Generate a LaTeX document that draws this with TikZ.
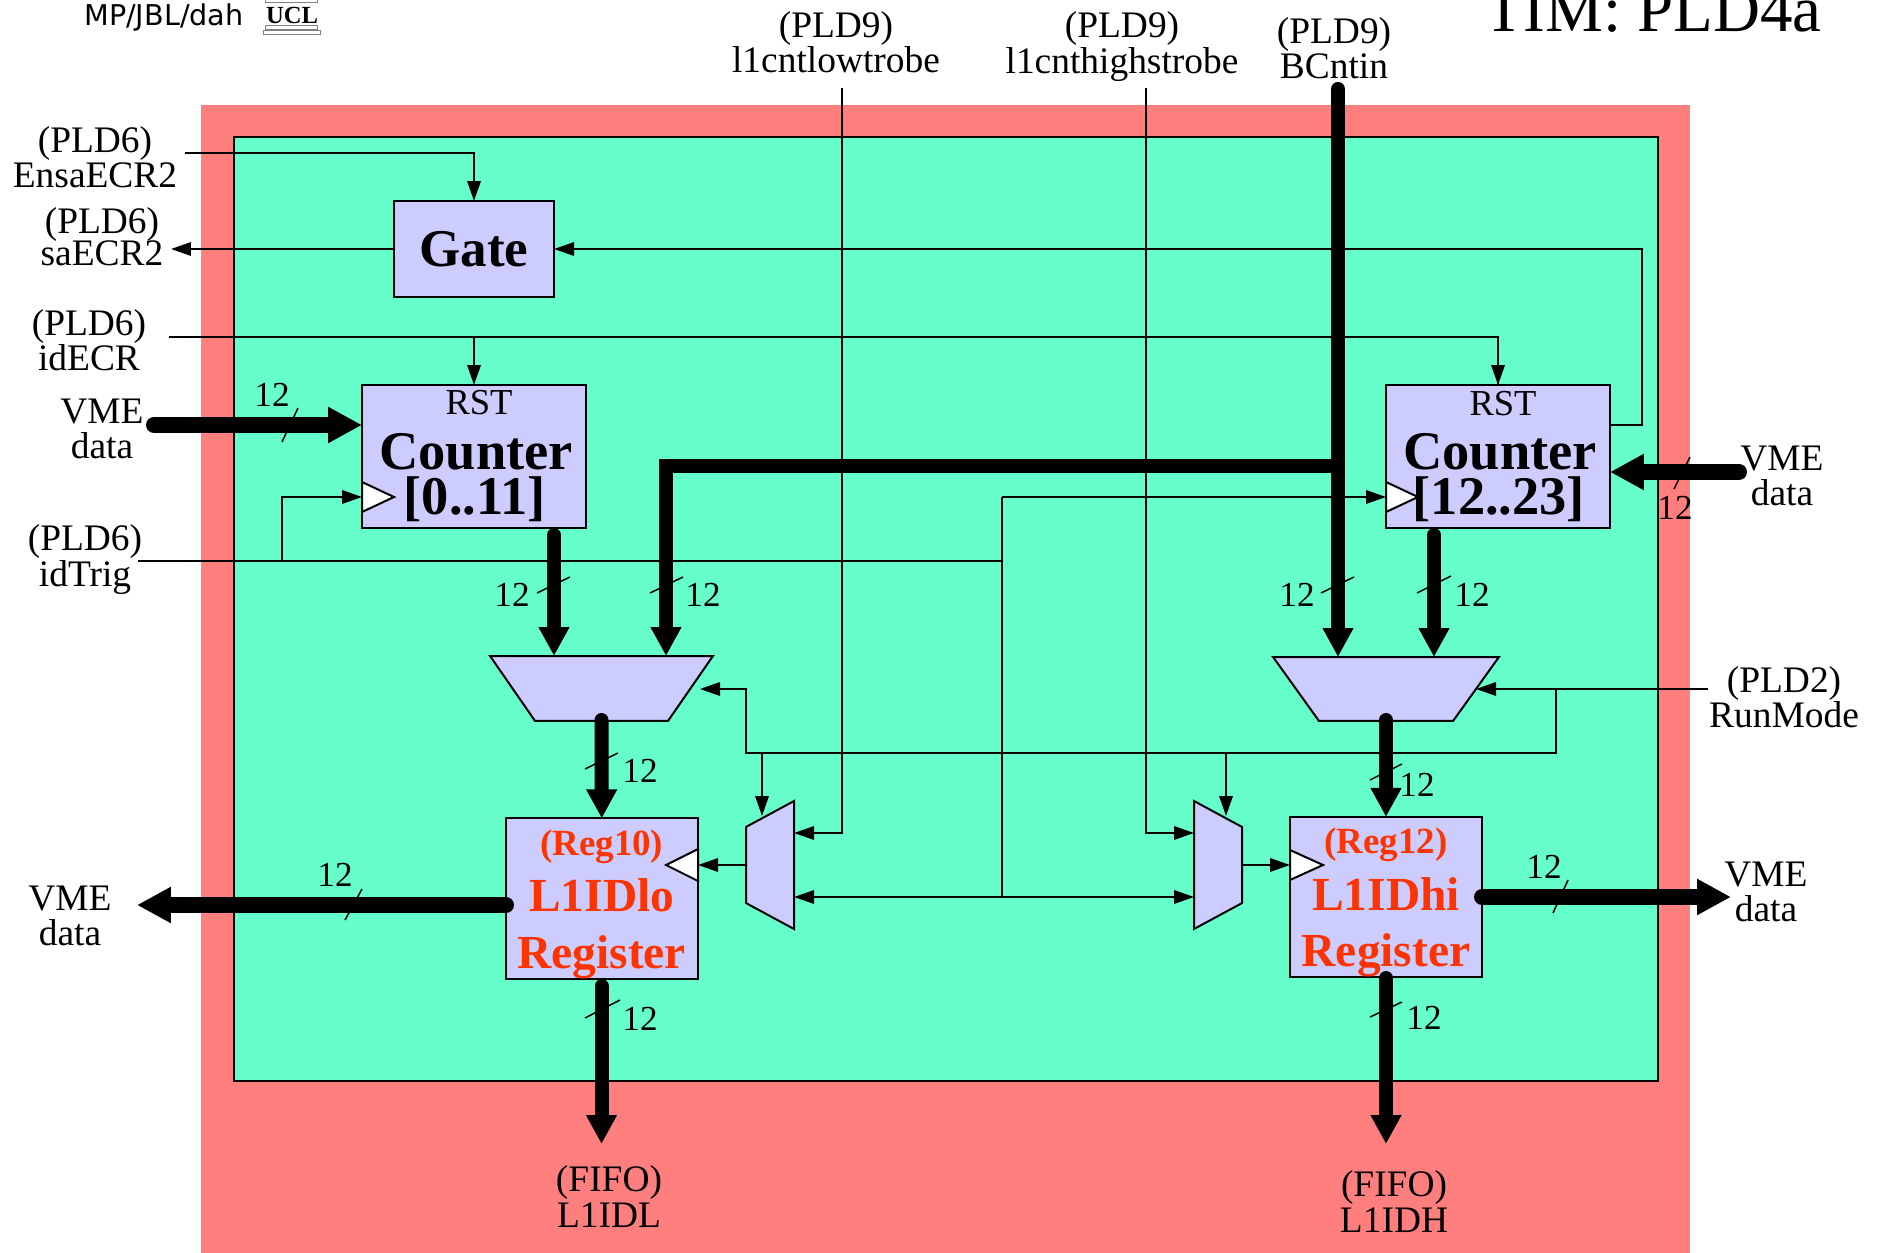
\documentclass[tikz,border=0pt]{standalone}
\usepackage{fontspec}
\setmainfont{Liberation Serif}
\newfontfamily\logosans{DejaVu Sans}
\usetikzlibrary{arrows.meta,shapes.geometric}
\definecolor{outerred}{RGB}{255,127,127}
\definecolor{innergreen}{RGB}{102,255,204}
\definecolor{boxblue}{RGB}{204,204,255}
\definecolor{regorange}{RGB}{255,51,0}
\tikzset{>={Triangle[length=.4cm,width=.27cm]}}
\tikzset{
    wire/.style={line width=.035cm},
    busline/.style={line width=.28cm,line cap=round,-{Triangle[length=.58cm,width=.58cm]}},
    vmeline/.style={line width=.32cm,line cap=round,-{Triangle[length=.68cm,width=.68cm]}},
    tick/.style={line width=.03cm},
    sig/.style={font=\fontsize{21.3}{20}\selectfont,align=center,inner sep=0pt},
    width/.style={font=\fontsize{20}{20}\selectfont,inner sep=0pt},
    block/.style={draw,fill=boxblue,line width=.04cm,inner sep=0pt,outer sep=0pt,align=center},
    counter/.style={block,minimum height=2.86cm,font=\bfseries\fontsize{31}{25.6}\selectfont},
    register/.style={block,minimum height=3.2cm,text=regorange,font=\bfseries\fontsize{27}{32.2}\selectfont},
    clock/.style={draw,fill=white,line width=.04cm},
    mux/.style={draw,fill=boxblue,line width=.04cm,trapezium,trapezium stretches=true,inner sep=2pt,outer sep=0pt},
}
\newcommand{\rstfont}{\mdseries\fontsize{20.8}{20}\selectfont}
\newcommand{\regfont}{\fontsize{21}{20}\selectfont\rule{0pt}{21pt}}
\begin{document}
\begin{tikzpicture}[x=.02cm,y=-.02cm]
    \useasboundingbox (0,0) rectangle (1879,1253);
    \fill[outerred] (201,105) rectangle (1690,1253);
    \draw[fill=innergreen,line width=.04cm] (234,137) rectangle (1658,1081);

    \node[anchor=base,inner sep=0pt,font=\fontsize{37}{37}\selectfont] (title) at (1653,32) {TIM: PLD4a};
    \node[anchor=base west,inner sep=0pt,font=\logosans\fontsize{16.3}{16}\selectfont] (author) at (84,26) {MP/JBL/dah};
    \node[inner sep=0pt,font=\bfseries\fontsize{14}{14}\selectfont] (ucl) at (292,15) {UCL};
    \draw[gray,line width=.02cm] (265,-2) rectangle (317,3);
    \draw[gray,line width=.02cm] (265,26) rectangle (317,30);
    \draw[gray,line width=.02cm] (263,31) rectangle (320,35);

    \node[sig] (ensa) at (95,157.5) {(PLD6)\\EnsaECR2};
    \node[sig] (sa) at (102,237) {(PLD6)\\[-1.7pt]saECR2};
    \node[sig] (idecr) at (89,340) {(PLD6)\\idECR};
    \node[sig] (vmea) at (102,429) {VME\\data};
    \node[sig] (idtrig) at (85,559.5) {(PLD6)\\idTrig};
    \node[sig] (lowstrobe) at (836,42) {(PLD9)\\l1cntlowtrobe};
    \node[sig] (highstrobe) at (1122,46.5) {(PLD9)\\l1cnthighstrobe};
    \node[sig] (bcnt) at (1334,48) {(PLD9)\\BCntin};
    \node[sig] (vmeb) at (1782,476) {VME\\data};
    \node[sig] (runmode) at (1784,697) {(PLD2)\\RunMode};
    \node[sig] (vmec) at (1766,892) {VME\\data};
    \node[sig] (vmed) at (70,916) {VME\\data};
    \node[sig] (fifolo) at (609,1196.5) {(FIFO)\\L1IDL};
    \node[sig] (fifohi) at (1394,1201.5) {(FIFO)\\L1IDH};

    \coordinate (ensaout) at (185,153);
    \coordinate (saout) at (171,249);
    \coordinate (idecrout) at (169,337);
    \coordinate (trigout) at (138,561);
    \coordinate (trigbr) at (282,561);
    \coordinate (trigjoin) at (1002,561);
    \coordinate (clkjoin) at (1002,497);
    \coordinate (busjoin) at (1002,897);
    \coordinate (clklo) at (362,497);
    \coordinate (clkhi) at (1386,497);
    \coordinate (hiout) at (1610,425);
    \coordinate (retn) at (1642,249);
    \coordinate (lowin) at (842,88);
    \coordinate (lowport) at (794,833);
    \coordinate (highin) at (1146,88);
    \coordinate (highport) at (1194,833);
    \coordinate (buslo) at (794,897);
    \coordinate (bushi) at (1194,897);
    \coordinate (runin) at (1708,689);
    \coordinate (runport) at (1476,689);
    \coordinate (runbr) at (1556,689);
    \coordinate (runsw) at (746,753);
    \coordinate (runlo) at (700,689);
    \coordinate (sello) at (762,753);
    \coordinate (sellotip) at (762,816);
    \coordinate (selhi) at (1226,753);
    \coordinate (selhitip) at (1226,816);
    \coordinate (regclklo) at (698,865);
    \coordinate (smalllo) at (746,865);
    \coordinate (smallhi) at (1242,865);
    \coordinate (regclkhi) at (1290,865);

    \begin{scope}[wire]
        \draw[->] (ensaout) -| (474,201);
        \draw (idecrout) -| (1498,385);
        \draw[->] (474,337) -- (474,385);
        \draw[->] (1498,337) -- (1498,385);
        \draw (trigout) -- (trigjoin);
        \draw[->] (trigbr) |- (clklo);
        \draw (clkjoin) -- (busjoin);
        \draw[->] (clkjoin) -- (clkhi);
        \draw[<->] (buslo) -- (bushi);
        \draw[->] (lowin) |- (lowport);
        \draw[->] (highin) |- (highport);
        \draw[->] (runin) -- (runport);
        \draw[->] (runbr) |- (runsw) |- (runlo);
        \draw[->] (hiout) -| (retn) -- (554,249);
        \draw[->] (393,249) -- (saout);
    \end{scope}

    \node[block,minimum width=3.2cm,minimum height=1.92cm,font=\bfseries\fontsize{30.2}{30}\selectfont] (gate) at (474,249) {Gate};
    \node[counter,minimum width=4.48cm] (cntlo) at (474,456.5) {{\rstfont\hspace*{5.7pt}RST}\\[5.7pt]\hspace*{2.5pt}Counter\\\hspace*{1pt}{[0..11]}};
    \node[counter,minimum width=4.48cm] (cnthi) at (1498,456.5) {{\rstfont\hspace*{5.7pt}RST}\\[5pt]\hspace*{2.5pt}Counter\\\hspace*{1pt}{[12..23]}};
    \draw[clock] (362,482) -- (394,497) -- (362,512) -- cycle;
    \draw[clock] (1386,482) -- (1418,497) -- (1386,512) -- cycle;

    \node[mux,shape border rotate=180,minimum width=4.46cm,minimum height=1.3cm,trapezium angle=71.3] (muxlo) at (601.5,688.5) {};
    \node[mux,shape border rotate=180,minimum width=4.52cm,minimum height=1.28cm,trapezium angle=71.1] (muxhi) at (1386,689) {};
    \node[mux,rotate=90,minimum width=2.56cm,minimum height=.96cm,trapezium angle=71.2] (sellow) at (770,865) {};
    \node[mux,rotate=-90,minimum width=2.56cm,minimum height=.96cm,trapezium angle=71.2] (selhigh) at (1218,865) {};

    \node[register,minimum width=3.85cm] (reglo) at (601.75,898.5) {{\regfont (Reg10)}\\[-.2pt]L1IDlo\\Register};
    \node[register,minimum width=3.84cm] (reghi) at (1386,897) {{\regfont (Reg12)}\\[-.2pt]L1IDhi\\Register};
    \draw[clock] (698,849) -- (666,865) -- (698,881) -- cycle;
    \draw[clock] (1290,850) -- (1323,865) -- (1290,880) -- cycle;

    \begin{scope}[wire]
        \draw[->] (smalllo) -- (regclklo);
        \draw[->] (smallhi) -- (regclkhi);
        \draw[->] (sello) -- (sellotip);
        \draw[->] (selhi) -- (selhitip);
    \end{scope}

    \coordinate (bcntin) at (1338,89);
    \coordinate (bcntmux) at (1338,657);
    \coordinate (bcntbr) at (1338,466);
    \coordinate (bcntlo) at (666,656);
    \coordinate (cntloout) at (554,535);
    \coordinate (cntlomux) at (554,656);
    \coordinate (cnthiout) at (1434,535);
    \coordinate (cnthimux) at (1434,657);
    \coordinate (muxloout) at (601.5,720);
    \coordinate (muxhiout) at (1386,720);
    \coordinate (regloout) at (601.5,986);
    \coordinate (reghiout) at (1386,978);
    \coordinate (fifoloin) at (601.5,1144);
    \coordinate (fifohiin) at (1386,1144);
    \coordinate (vmeaout) at (154,425);
    \coordinate (vmebout) at (1739,472);
    \coordinate (vmecin) at (1731,897);
    \coordinate (vmedin) at (137,905);
    \coordinate (regloback) at (506,905);
    \coordinate (reghifront) at (1482,897);

    \draw[busline] (bcntin) -- (bcntmux);
    \draw[busline] (bcntbr) -| (bcntlo);
    \draw[busline] (cntloout) -- (cntlomux);
    \draw[busline] (cnthiout) -- (cnthimux);
    \draw[busline] (muxloout) -- (reglo.north);
    \draw[busline] (muxhiout) -- (reghi.north);
    \draw[busline] (regloout) -- (fifoloin);
    \draw[busline] (reghiout) -- (fifohiin);
    \draw[vmeline] (vmeaout) -- (cntlo.west |- vmeaout);
    \draw[vmeline] (vmebout) -- (cnthi.east |- vmebout);
    \draw[vmeline] (regloback) -- (vmedin);
    \draw[vmeline] (reghifront) -- (vmecin);

    \node[width] (w1) at (272,395) {12};
    \node[width] (w2) at (512,595) {12};
    \node[width] (w3) at (703,595) {12};
    \node[width] (w4) at (1297,595) {12};
    \node[width] (w5) at (1472,595) {12};
    \node[width] (w6) at (1675,508) {12};
    \node[width] (w7) at (640,771) {12};
    \node[width] (w8) at (1417,785) {12};
    \node[width] (w9) at (640,1019) {12};
    \node[width] (w10) at (1424,1018) {12};
    \node[width] (w11) at (335,875) {12};
    \node[width] (w12) at (1544,867) {12};
    \draw[tick] (282,442) -- (298,408);
    \draw[tick] (537,593) -- (570,577);
    \draw[tick] (650,593) -- (683,577);
    \draw[tick] (1321,593) -- (1354,577);
    \draw[tick] (1417,593) -- (1451,576);
    \draw[tick] (1674,489) -- (1690,457);
    \draw[tick] (585,769) -- (618,753);
    \draw[tick] (1370,780) -- (1402,764);
    \draw[tick] (585,1018) -- (620,1000);
    \draw[tick] (1370,1017) -- (1402,1002);
    \draw[tick] (345,920) -- (362,889);
    \draw[tick] (1553,913) -- (1568,880);
\end{tikzpicture}
\end{document}
